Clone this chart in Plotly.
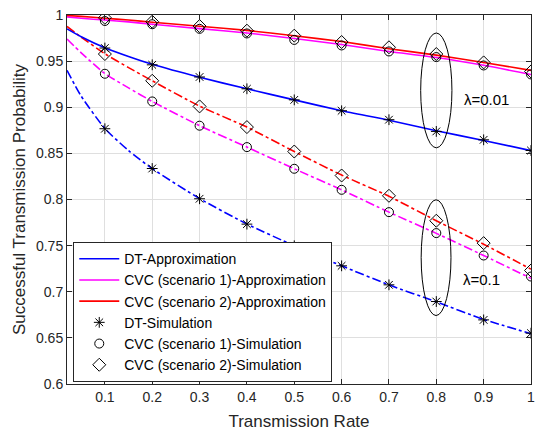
import plotly.graph_objects as go

# ---------------- data ----------------
rate_sim = [0.1, 0.2, 0.3, 0.4, 0.5, 0.6, 0.7, 0.8, 0.9, 1.0]
rate_approx = [0.02, 0.05, 0.1, 0.15, 0.2, 0.3, 0.4, 0.5, 0.6, 0.7, 0.8, 0.9, 1.0]

# lambda = 0.01 (solid)
dt_approx_001 = [0.985, 0.9765, 0.9645, 0.955, 0.9465, 0.9325, 0.920, 0.908, 0.8962, 0.886, 0.8745, 0.8640, 0.853]
cvc1_approx_001 = [0.998, 0.9965, 0.9945, 0.9925, 0.9900, 0.9852, 0.9805, 0.9745, 0.9680, 0.9605, 0.9540, 0.9455, 0.9355]
cvc2_approx_001 = [0.9995, 0.9985, 0.9965, 0.9945, 0.9922, 0.9878, 0.9833, 0.9775, 0.9712, 0.9635, 0.9565, 0.9485, 0.9400]

# lambda = 0.1 (dash-dot)
dt_approx_01 = [0.940, 0.912, 0.877, 0.853, 0.8335, 0.801, 0.7735, 0.7498, 0.7281, 0.7075, 0.689, 0.670, 0.6545]
cvc1_approx_01 = [0.974, 0.959, 0.9365, 0.921, 0.9063, 0.880, 0.8568, 0.8333, 0.8105, 0.7863, 0.7633, 0.7393, 0.7145]
cvc2_approx_01 = [0.9876, 0.976, 0.958, 0.943, 0.9287, 0.9012, 0.8785, 0.852, 0.8265, 0.8035, 0.777, 0.7515, 0.7245]

# simulation points
dt_sim_001 = [0.9642, 0.9460, 0.9328, 0.9200, 0.9080, 0.8962, 0.8865, 0.8738, 0.8647, 0.8531]
cvc1_sim_001 = [0.9935, 0.9900, 0.9850, 0.9800, 0.9730, 0.9670, 0.9605, 0.9544, 0.9453, 0.9356]
cvc2_sim_001 = [0.9970, 0.9927, 0.9880, 0.9830, 0.9776, 0.9707, 0.9650, 0.9577, 0.9486, 0.9388]

dt_sim_01 = [0.8767, 0.8336, 0.8008, 0.7733, 0.7498, 0.7281, 0.7075, 0.6894, 0.6695, 0.6551]
cvc1_sim_01 = [0.9363, 0.9063, 0.8800, 0.8568, 0.8333, 0.8105, 0.7863, 0.7636, 0.7393, 0.7165]
cvc2_sim_01 = [0.9577, 0.9287, 0.9009, 0.8785, 0.8520, 0.8260, 0.8040, 0.7770, 0.7527, 0.7230]

x_ticks = [0.1, 0.2, 0.3, 0.4, 0.5, 0.6, 0.7, 0.8, 0.9, 1]
x_tick_text = ["0.1", "0.2", "0.3", "0.4", "0.5", "0.6", "0.7", "0.8", "0.9", "1"]
y_ticks = [0.6, 0.65, 0.7, 0.75, 0.8, 0.85, 0.9, 0.95, 1]
y_tick_text = ["0.6", "0.65", "0.7", "0.75", "0.8", "0.85", "0.9", "0.95", "1"]

BLUE = "rgb(0,0,255)"
MAGENTA = "rgb(255,0,255)"
RED = "rgb(255,0,0)"
FONT = "Liberation Sans, Arial, sans-serif"
TXT = "rgb(38,38,38)"

fig = go.Figure()

# approximation lines (lambda=0.1, dash-dot, not in legend)
for y, c in [(dt_approx_01, BLUE), (cvc1_approx_01, MAGENTA), (cvc2_approx_01, RED)]:
    fig.add_trace(go.Scatter(x=rate_approx, y=y, mode="lines", showlegend=False,
                             line=dict(color=c, width=1.6, dash="dashdot", shape="spline", smoothing=0.6),
                             hoverinfo="skip"))

# approximation lines (lambda=0.01, solid, in legend)
for y, c, name in [(dt_approx_001, BLUE, "DT-Approximation"),
                   (cvc1_approx_001, MAGENTA, "CVC (scenario 1)-Approximation"),
                   (cvc2_approx_001, RED, "CVC (scenario 2)-Approximation")]:
    fig.add_trace(go.Scatter(x=rate_approx, y=y, mode="lines", name=name,
                             line=dict(color=c, width=1.6, shape="spline", smoothing=0.6)))

# simulation markers
marker_specs = [
    ("DT-Simulation", dt_sim_001, dt_sim_01, "asterisk-open", 9),
    ("CVC (scenario 1)-Simulation", cvc1_sim_001, cvc1_sim_01, "circle-open", 9),
    ("CVC (scenario 2)-Simulation", cvc2_sim_001, cvc2_sim_01, "diamond-open", 10),
]
for name, y1, y2, sym, sz in marker_specs:
    fig.add_trace(go.Scatter(x=rate_sim, y=y1, mode="markers", name=name,
                             marker=dict(symbol=sym, size=sz, color="black",
                                         line=dict(color="black", width=1))))
    fig.add_trace(go.Scatter(x=rate_sim, y=y2, mode="markers", showlegend=False,
                             marker=dict(symbol=sym, size=sz, color="black",
                                         line=dict(color="black", width=1))))

# ellipses
fig.add_shape(type="circle", xref="x", yref="y", x0=0.767, x1=0.833, y0=0.856, y1=0.9805,
              line=dict(color="black", width=1))
fig.add_shape(type="circle", xref="x", yref="y", x0=0.768, x1=0.831, y0=0.6742, y1=0.7997,
              line=dict(color="black", width=1))

fig.add_annotation(x=0.906, y=0.908, xref="x", yref="y", text="λ=0.01", showarrow=False,
                   font=dict(family=FONT, size=15, color="black"))
fig.add_annotation(x=0.895, y=0.713, xref="x", yref="y", text="λ=0.1", showarrow=False,
                   font=dict(family=FONT, size=15, color="black"))

axis_common = dict(showline=True, linecolor=TXT, linewidth=1, mirror="ticks", ticks="inside",
                   ticklen=5, tickcolor=TXT, showgrid=True, gridcolor="rgb(223,223,223)", gridwidth=1,
                   zeroline=False, tickfont=dict(family=FONT, size=14, color=TXT))

fig.update_xaxes(range=[0.02, 1], tickvals=x_ticks, ticktext=x_tick_text,
                 title=dict(text="Transmission Rate", font=dict(family=FONT, size=17, color=TXT), standoff=11),
                 **axis_common)
fig.update_yaxes(range=[0.6, 1], tickvals=y_ticks, ticktext=y_tick_text,
                 title=dict(text="Successful Transmission Probability", font=dict(family=FONT, size=17, color=TXT), standoff=6),
                 **axis_common)

fig.update_layout(
    width=540, height=433,
    margin=dict(l=67, r=5, t=15, b=49),
    plot_bgcolor="white", paper_bgcolor="white",
    font=dict(family=FONT, color=TXT),
    legend=dict(x=0.0135, y=0.005, xanchor="left", yanchor="bottom",
                bgcolor="white", bordercolor=TXT, borderwidth=1,
                font=dict(family=FONT, size=14, color="black"),
                tracegroupgap=0, itemwidth=40),
    showlegend=True,
)

fig.write_html("out.html")
